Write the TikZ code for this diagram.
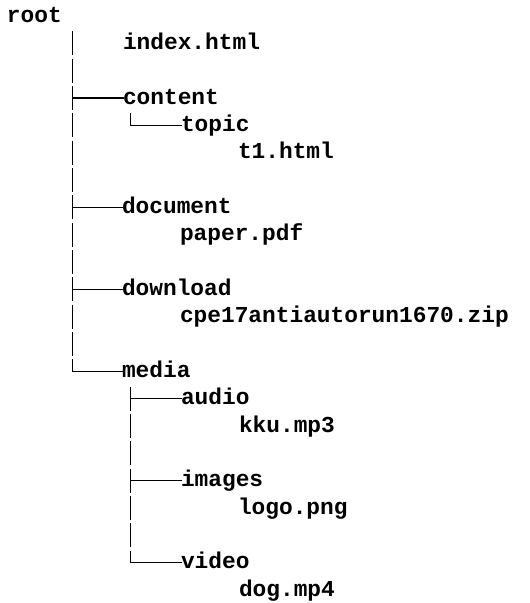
\documentclass[tikz,border=0pt]{standalone}
\usepackage{fontspec}
\setmonofont{Liberation Mono}
\begin{document}
\begin{tikzpicture}[x=0.75pt,y=-0.75pt,
  item/.style={anchor=west,inner sep=0pt,outer sep=0pt,font=\ttfamily\bfseries\fontsize{17.12pt}{20pt}\selectfont,text height=9pt,text depth=0pt},
  branch/.style={line width=1pt,black,line cap=rect},
  stem/.style={line width=1pt,black,dash pattern=on 18pt off 2.5pt}]
\useasboundingbox (0,0) rectangle (529,603);
\node[item] (root) at (7,16) {root};
\node[item] (index) at (123,43.33) {index.html};
\node[item] (content) at (123,98) {content};
\node[item] (topic) at (181,125.33) {topic};
\node[item] (t1) at (238,152.67) {t1.html};
\node[item] (document) at (122,207.33) {document};
\node[item] (paper) at (180,234.67) {paper.pdf};
\node[item] (download) at (122,289.33) {download};
\node[item] (zip) at (180,316.67) {cpe17antiautorun1670.zip};
\node[item] (media) at (122,371.33) {media};
\node[item] (audio) at (181,398.67) {audio};
\node[item] (kku) at (239,426) {kku.mp3};
\node[item] (images) at (181,480.67) {images};
\node[item] (logo) at (238,508) {logo.png};
\node[item] (video) at (181,562.67) {video};
\node[item] (dog) at (239,590) {dog.mp4};
\coordinate (trunk) at (72.7,31.33);
\coordinate (ctop) at (130.5,113.33);
\coordinate (mtop) at (130.7,386.67);
% main trunk
\draw[stem] (trunk) -- (trunk |- media.west);
\draw[branch] (trunk |- content.west) -- (content.west);
\draw[branch] (trunk |- document.west) -- (document.west);
\draw[branch] (trunk |- download.west) -- (download.west);
\draw[branch] (trunk |- media.west) -- (media.west);
% content subtree
\draw[branch] (ctop) -- (ctop |- topic.west) -- (topic.west);
% media subtree
\draw[stem] (mtop) -- (mtop |- video.west);
\draw[branch] (mtop |- audio.west) -- (audio.west);
\draw[branch] (mtop |- images.west) -- (images.west);
\draw[branch] (mtop |- video.west) -- (video.west);
\end{tikzpicture}
\end{document}
